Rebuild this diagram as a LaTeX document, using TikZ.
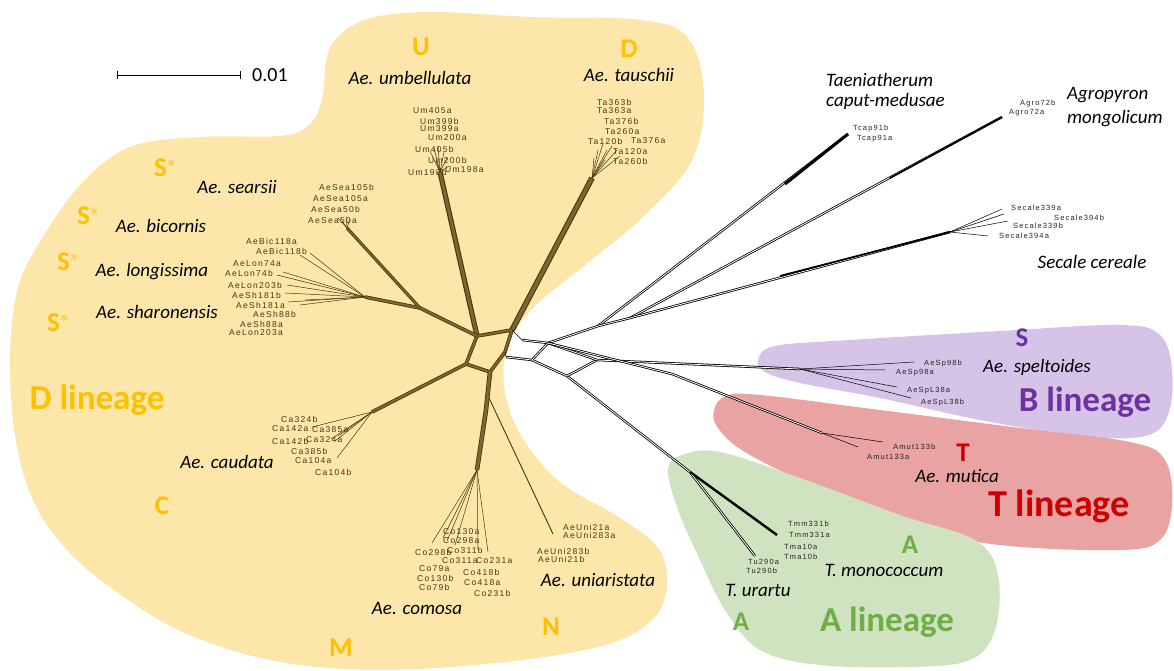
\documentclass[tikz,border=0pt]{standalone}
\usepackage{fontspec}
\setmainfont{Carlito}
\newfontfamily\tipfont[LetterSpace=15]{Liberation Sans}
\usetikzlibrary{positioning}
\definecolor{dyel}{RGB}{252,230,170}
\definecolor{dgold}{RGB}{255,192,0}
\definecolor{dbrown}{RGB}{72,55,12}
\definecolor{dbrownlt}{RGB}{125,102,48}
\definecolor{bpurp}{RGB}{214,196,232}
\definecolor{bpurptx}{RGB}{112,48,160}
\definecolor{tred}{RGB}{234,163,163}
\definecolor{tredtx}{RGB}{204,0,0}
\definecolor{agreen}{RGB}{208,227,192}
\definecolor{agreentx}{RGB}{112,173,71}
\definecolor{tipbrown}{RGB}{70,55,20}

\begin{document}
\begin{tikzpicture}[x=1pt,y=-1pt,
    spc/.style={font=\fontsize{19}{19}\selectfont\itshape, inner sep=0pt},
    gen/.style={font=\fontsize{27}{27}\selectfont\bfseries, inner sep=0pt},
    lin/.style={font=\fontsize{35}{35}\selectfont\bfseries, inner sep=0pt},
    tipy/.style={font=\tipfont\fontsize{8.5}{8.5}\selectfont, text=tipbrown,
                 inner sep=0pt, anchor=west},
    tipk/.style={font=\tipfont\fontsize{7.5}{7.5}\selectfont, text=black!85,
                 inner sep=0pt, anchor=west},
    bund/.style={draw=dbrown, line width=0.8pt, double=dbrownlt, double distance=2pt},
    twig/.style={draw=dbrown, line width=0.5pt},
    blk/.style={draw=black, line width=0.8pt, double=white, double distance=0.8pt},
    bt/.style={draw=black, line width=0.5pt}
  ]
  \useasboundingbox (0,0) rectangle (1174,671);
  \fill[white] (0,0) rectangle (1174,671);

  % lineage areas
  \fill[dyel] plot[smooth cycle, tension=0.6] coordinates {
    (322,100) (330,48) (365,20) (430,12) (530,17) (640,20) (688,38) (704,95)
    (692,160) (645,215) (585,265) (533,308) (507,348) (505,392) (522,437)
    (560,482) (620,518) (658,548) (667,585) (652,620) (605,645) (505,662)
    (380,670) (275,661) (185,633) (117,592) (67,550) (33,500) (15,435)
    (10,355) (17,292) (35,250) (80,185) (130,147) (200,137) (280,136) (308,126)};
  \fill[bpurp] plot[smooth cycle, tension=0.6] coordinates {
    (758,360) (775,346) (850,340) (1000,331) (1120,325) (1160,335) (1172,370)
    (1168,415) (1145,436) (1080,436) (980,420) (880,398) (800,383) (765,372)};
  \fill[tred] plot[smooth cycle, tension=0.6] coordinates {
    (714,410) (726,396) (760,395) (880,410) (1020,428) (1130,442) (1165,460)
    (1172,505) (1160,540) (1120,550) (1000,545) (900,525) (820,490) (745,452)
    (718,428)};
  \fill[agreen] plot[smooth cycle, tension=0.6] coordinates {
    (668,470) (682,455) (720,452) (800,478) (900,515) (975,540) (998,575)
    (995,630) (970,660) (910,667) (820,665) (760,650) (725,610) (700,560)
    (678,510)};

  % scale bar
  \coordinate (sb1) at (117,75);
  \coordinate (sb2) at (241,75);
  \draw[|-|, line width=0.9pt] (sb1) -- (sb2);
  \node[font=\fontsize{20}{20}\selectfont, anchor=west, inner sep=0pt] (sbl) at (252,75) {0.01};

  % genome letters
  \node[gen, text=dgold] (gU) at (421,47) {U};
  \node[gen, text=dgold] (gD) at (629,49) {D};
  \node[gen, text=dgold] (gS1) at (165,168) {S$^*$};
  \node[gen, text=dgold] (gS2) at (88,216) {S$^*$};
  \node[gen, text=dgold] (gS3) at (68,262) {S$^*$};
  \node[gen, text=dgold] (gS4) at (58,323) {S$^*$};
  \node[gen, text=dgold] (gC) at (162,506) {C};
  \node[gen, text=dgold] (gM) at (341,648) {M};
  \node[gen, text=dgold] (gN) at (551,627) {N};
  \node[gen, text=bpurptx] (gS) at (1022,338) {S};
  \node[gen, text=tredtx] (gT) at (963,453) {T};
  \node[gen, text=agreentx] (gA1) at (910,545) {A};
  \node[gen, text=agreentx] (gA2) at (741,622) {A};

  % lineage titles
  \node[lin, text=dgold] (linD) at (97,400) {D lineage};
  \node[lin, text=bpurptx] (linB) at (1085,402) {B lineage};
  \node[lin, text=tredtx, font=\fontsize{38}{38}\selectfont\bfseries] (linT) at (1059,506) {T lineage};
  \node[lin, text=agreentx] (linA) at (887,622) {A lineage};

  % species
  \node[spc] (umb) at (410,78) {Ae. umbellulata};
  \node[spc] (tau) at (629,75) {Ae. tauschii};
  \node[spc, anchor=west] (taen) at (826,80) {Taeniatherum};
  \node[spc, below=6pt of taen.south west, anchor=north west] (capm) {caput-medusae};
  \node[spc, anchor=west] (agr) at (1067,95) {Agropyron};
  \node[spc, below=7pt of agr.south west, anchor=north west] (mong) {mongolicum};
  \node[spc] (sec) at (1092,262) {Secale cereale};
  \node[spc] (spel) at (1037,367) {Ae. speltoides};
  \node[spc] (mut) at (957,476) {Ae. mutica};
  \node[spc] (mono) at (884,570) {T. monococcum};
  \node[spc] (ura) at (758,590) {T. urartu};
  \node[spc] (uni) at (598,580) {Ae. uniaristata};
  \node[spc] (com) at (417,608) {Ae. comosa};
  \node[spc] (cau) at (227,462) {Ae. caudata};
  \node[spc] (sea) at (237,187) {Ae. searsii};
  \node[spc] (bic) at (161,226) {Ae. bicornis};
  \node[spc] (lon) at (152,272) {Ae. longissima};
  \node[spc] (sha) at (157,312) {Ae. sharonensis};

  % accessions
  \foreach \nm/\x/\y in {Um405a/413/111, Um399b/420/121, Um399a/420/129,
      Um200a/428/138, Um405b/415/149, Um200b/428/160, Um198b/408/172,
      Um198a/445/170, Ta363b/597/102, Ta363a/597/111, Ta376b/604/121,
      Ta260a/605/132, Ta120b/588/141, Ta376a/631/141, Ta120a/613/152,
      Ta260b/613/161, AeSea105b/319/187, AeSea105a/313/199, AeSea50b/311/209,
      AeSea50a/308/221, AeBic118a/246/241, AeBic118b/256/251, AeLon74a/233/264,
      AeLon74b/225/273, AeLon203b/228/285, AeSh181b/232/295, AeSh181a/236/305,
      AeSh88b/253/314, AeSh88a/240/324, AeLon203a/229/333, Ca324b/281/419,
      Ca142a/272/429, Ca385a/312/430, Ca142b/272/441, Ca324a/306/440,
      Ca385b/291/451, Ca104a/295/461, Ca104b/315/472, Co130a/443/532,
      Co298a/443/541, Co298b/415/552, Co311b/447/550, Co311a/442/561,
      Co231a/476/561, Co79a/419/569, Co130b/417/578, Co79b/419/587,
      Co418b/463/572, Co418a/464/583, Co231b/474/593, AeUni21a/563/527,
      AeUni283a/563/535, AeUni283b/537/551, AeUni21b/538/559}
    \node[tipy] (\nm) at (\x,\y) {\nm};
  \foreach \nm/\x/\y in {Tcap91b/853/129, Tcap91a/857/139, Agro72b/1020/104,
      Agro72a/1009/113, Secale339a/1011/208, Secale394b/1054/218,
      Secale339b/1013/226, Secale394a/999/236, AeSp98b/924/364,
      AeSp98a/896/373, AeSpL38a/907/391, AeSpL38b/921/403, Amut133b/893/447,
      Amut133a/867/457, Tmm331b/788/524, Tmm331a/789/535, Tma10a/784/547,
      Tma10b/784/557, Tu290a/748/562, Tu290b/746/571}
    \node[tipk] (\nm) at (\x,\y) {\nm};

  % network, Aegilops part
  \coordinate (c1) at (477,336);
  \coordinate (c2) at (512,330);
  \coordinate (c3) at (466,364);
  \coordinate (c4) at (490,372);
  \coordinate (c5) at (505,352);
  \coordinate (um) at (440,172);
  \coordinate (ta) at (592,178);
  \coordinate (lf) at (420,308);
  \coordinate (lo) at (365,297);
  \coordinate (se) at (347,228);
  \coordinate (ca) at (372,412);
  \coordinate (co0) at (486,410);
  \coordinate (co) at (477,470);
  \coordinate (un0) at (489,398);
  \coordinate (un) at (553,534);
  \draw[bund, line width=1.1pt, double distance=3pt] (c1) -- (um);
  \draw[bund, line width=1.1pt, double distance=3.5pt] (c2) -- (ta);
  \draw[bund] (c1) -- (c2) (c1) -- (c3) -- (c4) -- (c5) -- (c2);
  \draw[bund] (c1) -- (lf) -- (lo);
  \draw[bund, double distance=1.5pt] (lf) -- (se);
  \draw[bund] (c3) -- (ca);
  \draw[bund, double distance=3pt] (c4) -- (co0) -- (co);
  \draw[twig, line width=0.9pt] (un0) -- (un);
  \foreach \p in {(430,151),(434,148),(438,146),(444,152),(436,160),
                  (447,158),(440,168),(449,166)}
    \draw[twig] (um) -- \p;
  \foreach \p in {(594,158),(598,150),(603,144),(607,150),(612,146),
                  (617,150),(620,156),(605,160)}
    \draw[twig] (ta) -- \p;
  \foreach \p in {(338,218),(342,221),(346,216),(350,219)}
    \draw[twig] (se) -- \p;
  \foreach \p in {(300,255),(310,253),(277,275),(283,272),(287,285),
                  (285,293),(288,302),(300,305),(305,300)}
    \draw[twig] (lo) -- \p;
  \foreach \p in {(312,427),(331,439),(335,441),(338,436),(337,458)}
    \draw[twig] (ca) -- \p;
  \foreach \p in {(432,543),(443,538),(447,541),(455,545),(478,550),(488,552)}
    \draw[twig] (co) -- \p;

  % network, outgroups and other lineages
  \coordinate (k1) at (522,340);
  \coordinate (k2) at (506,357);
  \coordinate (k3) at (548,343);
  \coordinate (k4) at (532,360);
  \coordinate (k5) at (567,376);
  \coordinate (k6) at (597,360);
  \coordinate (k7) at (598,326);
  \coordinate (k8) at (630,318);
  \coordinate (mu1) at (672,374);
  \coordinate (a1) at (690,472);
  \coordinate (tcap) at (848,134);
  \coordinate (tc1) at (785,184);
  \coordinate (agro) at (1002,117);
  \coordinate (ag1) at (890,178);
  \coordinate (secl) at (950,232);
  \coordinate (se1) at (780,276);
  \coordinate (sp) at (800,369);
  \coordinate (mu) at (822,433);
  \coordinate (tm) at (777,535);
  \coordinate (tu) at (755,556);
  \draw[bt] (c2) -- (k1) (c5) -- (k2);
  \draw[blk] (k1) -- (k3) -- (k7) -- (tcap);
  \draw[blk] (k7) -- (k8) -- (agro);
  \draw[blk] (k8) -- (secl);
  \draw[blk] (k2) -- (k4) -- (k5) -- (a1) -- (tm);
  \draw[blk] (a1) -- (tu);
  \draw[blk] (k3) -- (k4) (k5) -- (k6);
  \draw[blk] (k3) -- (k6) -- (sp);
  \draw[blk] (k3) -- (mu1) -- (mu);
  \draw[line width=3pt] (tc1) -- (tcap);
  \draw[line width=1.6pt] (ag1) -- (agro);
  \draw[line width=1.8pt] (se1) -- (secl);
  \draw[line width=1.6pt] (a1) -- (tm);
  \foreach \p in {(1002,209),(1004,214),(1008,221),(988,236)}
    \draw[bt] (secl) -- \p;
  \foreach \p in {(914,362),(885,370),(897,387),(911,398)}
    \draw[bt] (sp) -- \p;
  \foreach \p in {(883,442),(858,447)}
    \draw[bt] (mu) -- \p;
\end{tikzpicture}
\end{document}
